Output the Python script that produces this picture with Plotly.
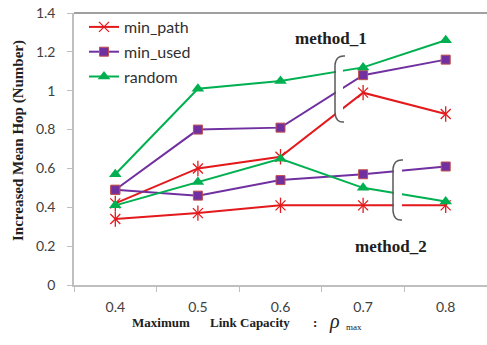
import plotly.graph_objects as go

categories = ["0.4", "0.5", "0.6", "0.7", "0.8"]
min_path_m1 = [0.42, 0.60, 0.66, 0.99, 0.88]
min_used_m1 = [0.49, 0.80, 0.81, 1.08, 1.16]
random_m1 = [0.57, 1.01, 1.05, 1.12, 1.26]
min_path_m2 = [0.34, 0.37, 0.41, 0.41, 0.41]
min_used_m2 = [0.49, 0.46, 0.54, 0.57, 0.61]
random_m2 = [0.41, 0.53, 0.65, 0.50, 0.43]

RED = "#e3191c"
PURPLE = "#7030a0"
GREEN = "#00b050"

W, H = 487, 345
L, R, T, B = 74, 0, 13, 60
PW, PH = W - L - R, H - T - B


def px(x):
    return (x - L) / PW


def py(y):
    return (H - B - y) / PH


fig = go.Figure()

series = [
    ("min_path", RED, min_path_m1, min_path_m2),
    ("min_used", PURPLE, min_used_m1, min_used_m2),
    ("random", GREEN, random_m1, random_m2),
]
for name, color, m1, m2 in series:
    if name == "min_path":
        marker = dict(symbol="x-thin-open", size=10, color=color, line=dict(color=color, width=1.3))
    elif name == "min_used":
        marker = dict(symbol="square", size=9, color=color, line=dict(color="#c0504d", width=1))
    else:
        marker = dict(symbol="triangle-up", size=11, color=color, line=dict(color=color, width=0))
    for i, vals in enumerate([m1, m2]):
        fig.add_trace(go.Scatter(
            x=categories, y=vals, mode="lines+markers", name=name,
            legendgroup=name, showlegend=(i == 0),
            line=dict(color=color, width=2), marker=marker,
        ))
        if name == "min_path":
            fig.add_trace(go.Scatter(
                x=categories, y=vals, mode="markers", showlegend=False,
                legendgroup=name, hoverinfo="skip",
                marker=dict(symbol="line-ns-open", size=11, color=color,
                            line=dict(color=color, width=1.3)),
            ))

shapes = []
# top border
shapes.append(dict(type="line", xref="paper", yref="paper", x0=0, x1=1, y0=1, y1=1,
                   line=dict(color="#808080", width=1.5)))
# white gaps and brackets
for (gx0, gx1, gy0, gy1) in [(336, 343, 58, 122), (394, 402, 160, 220)]:
    shapes.append(dict(type="rect", xref="paper", yref="paper", layer="above",
                       x0=px(gx0), x1=px(gx1), y0=py(gy1), y1=py(gy0),
                       fillcolor="white", line=dict(width=0)))


def bracket(xr, xl, y0, y1):
    return (f"M {px(xr)},{py(y0)} Q {px(xl+1)},{py(y0-1)} {px(xl)},{py(y0+9)} "
            f"L {px(xl)},{py(y1-9)} Q {px(xl+1)},{py(y1+1)} {px(xr-1)},{py(y1)}")


for xr, xl, y0, y1 in [(345, 335, 56, 122), (403, 393, 160, 220)]:
    shapes.append(dict(type="path", xref="paper", yref="paper", layer="above",
                       path=bracket(xr, xl, y0, y1),
                       line=dict(color="#5a5a5a", width=1.5)))

SERIF = "Liberation Serif"
TXT = "#202020"


def ann(text, x, y, size, **kw):
    d = dict(text=text, xref="paper", yref="paper", x=px(x), y=py(y),
             xanchor="center", yanchor="middle",
             showarrow=False, font=dict(family=SERIF, size=size, color=TXT))
    d.update(kw)
    return d


annotations = [
    ann("<b>method_1</b>", 331, 38, 17),
    ann("<b>method_2</b>", 391, 246, 17),
    ann("<b>Increased Mean Hop (Number)</b>", 18, 141, 15, textangle=-90),
    ann("<b>Maximum</b>", 161, 322, 13),
    ann("<b>Link Capacity</b>", 250, 322, 13),
    ann("<b>:</b>", 315, 322, 13),
    ann("<i>ρ</i>", 334, 321, 20),
    ann("max", 354, 327, 9),
]

fig.update_layout(
    width=W, height=H, margin=dict(l=L, r=R, t=T, b=B),
    paper_bgcolor="white", plot_bgcolor="white",
    showlegend=True,
    legend=dict(x=px(84), y=py(10), xanchor="left", yanchor="top",
                bgcolor="rgba(0,0,0,0)", tracegroupgap=1,
                font=dict(family="Lato", size=16, color="#303030")),
    shapes=shapes, annotations=annotations,
    xaxis=dict(type="category", range=[-0.5, 4.5], tickson="boundaries",
               ticks="outside", ticklen=5, tickcolor="#bfbfbf",
               showline=True, linecolor="#bfbfbf", linewidth=1.5,
               showgrid=False, zeroline=False, ticklabelstandoff=8,
               tickfont=dict(family="Lato", size=14, color="#404040")),
    yaxis=dict(range=[0, 1.4], dtick=0.2, ticks="outside", ticklen=5,
               tickcolor="#bfbfbf", showline=True, linecolor="#bfbfbf", linewidth=1.5,
               showgrid=False, zeroline=False, ticklabelstandoff=9,
               tickfont=dict(family="Lato", size=14, color="#404040")),
)

fig.write_html("out.html")
